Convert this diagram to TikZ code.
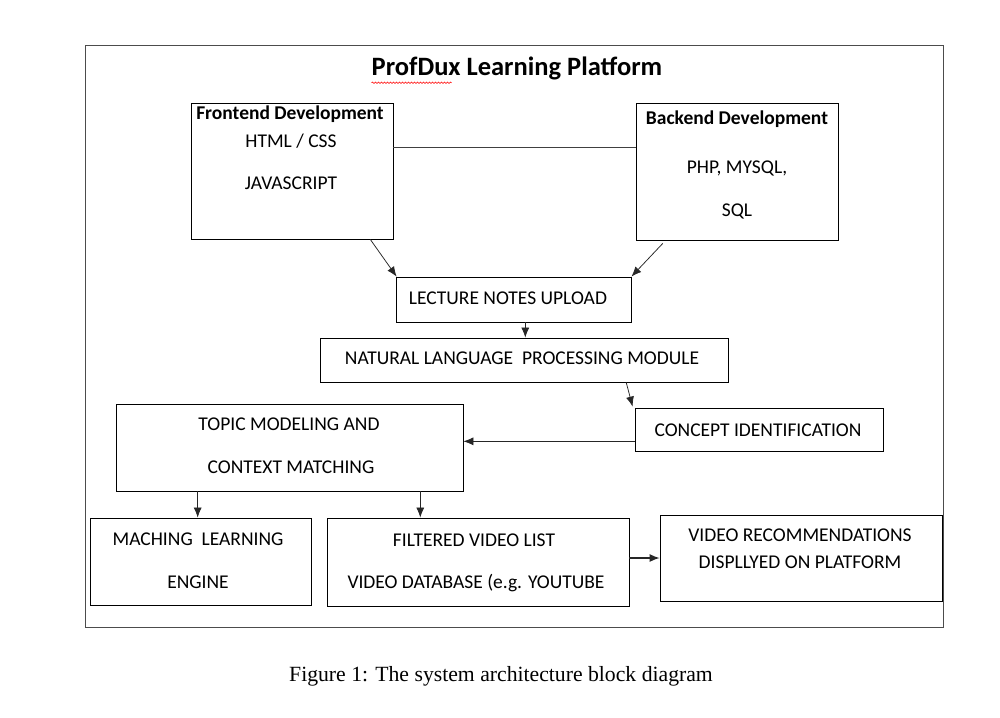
\documentclass[tikz,border=0pt]{standalone}
\usepackage{fontspec}
\setmainfont{Carlito}
\newfontfamily\capfont{Liberation Serif}
\usetikzlibrary{arrows.meta,calc,decorations.pathmorphing}
\begin{document}
\begin{tikzpicture}[x=1pt,y=-1pt,
  box/.style={draw=black,line width=0.8pt,inner sep=0pt},
  frame/.style={draw=black!70,line width=0.9pt},
  txt/.style={inner sep=0pt,font=\fontsize{19.5}{23}\selectfont},
  head/.style={inner sep=0pt,font=\fontsize{19.5}{23}\selectfont\bfseries},
  arr/.style={draw=black!85,line width=0.75pt,-{Latex[length=10pt,width=8pt]}},
  link/.style={draw=black!75,line width=0.7pt}]
\useasboundingbox (0,0) rectangle (1000,717);
\fill[white] (0,0) rectangle (1000,717);
% outer frame
\node[frame,inner sep=0pt,minimum width=858,minimum height=582] (outer) at (514,336) {};
% title
\node[inner sep=0pt,font=\fontsize{26.5}{30}\selectfont\bfseries] (title) at (517,68) {ProfDux Learning Platform};
\draw[red,line width=0.6pt,decorate,decoration={snake,amplitude=0.7pt,segment length=3pt}] (title.south west) ++(0,3) coordinate (sq1) -- ($(sq1)+(80,0)$);
% boxes
\node[box,minimum width=202,minimum height=136] (fe) at (292,171) {};
\node[box,minimum width=202,minimum height=137] (be) at (737,171.5) {};
\node[box,minimum width=235,minimum height=45] (ln) at (513.5,299.5) {};
\node[box,minimum width=408,minimum height=44] (nlp) at (524,360) {};
\node[box,minimum width=248,minimum height=43] (ci) at (759,429.5) {};
\node[box,minimum width=347,minimum height=87] (tm) at (289.5,447.5) {};
\node[box,minimum width=221,minimum height=87] (ml) at (200.5,561.5) {};
\node[box,minimum width=302,minimum height=88] (fv) at (478,562) {};
\node[box,minimum width=282,minimum height=86] (vr) at (801,558) {};
% texts
\node[head] (t1) at (290,114) {Frontend Development};
\node[txt] (t2) at (291,141) {HTML / CSS};
\node[txt] (t3) at (291,183) {JAVASCRIPT};
\node[head] (t4) at (737,119) {Backend Development};
\node[txt] (t5) at (737,168) {PHP, MYSQL,};
\node[txt] (t6) at (737,211) {SQL};
\node[txt] (t7) at (508,298) {LECTURE NOTES UPLOAD};
\node[txt] (t8) at (522,358) {NATURAL LANGUAGE\ \ PROCESSING MODULE};
\node[txt] (t9) at (758,430) {CONCEPT IDENTIFICATION};
\node[txt] (t10) at (289,424) {TOPIC MODELING AND};
\node[txt] (t11) at (291,467) {CONTEXT MATCHING};
\node[txt] (t12) at (198,539) {MACHING\ \ LEARNING};
\node[txt] (t13) at (198,582) {ENGINE};
\node[txt] (t14) at (474,540) {FILTERED VIDEO LIST};
\node[txt] (t15) at (476,583) {VIDEO DATABASE (e.g. YOUTUBE};
\node[txt] (t16) at (800,535) {VIDEO RECOMMENDATIONS};
\node[txt] (t17) at (800,562) {DISPLLYED ON PLATFORM};
% caption
\node[inner sep=0pt,font=\capfont\fontsize{21.7}{25}\selectfont] (cap) at (501,676) {Figure 1: The system architecture block diagram};
% connectors
\coordinate (febe) at ($(fe.north east)!0.33!(fe.south east)$);
\draw[link] (febe) -- (febe -| be.west);
\coordinate (fes) at ($(fe.south west)!0.886!(fe.south east)$);
\draw[arr] (fes) -- ($(ln.north west)+(1,0)$);
\coordinate (bes) at ($(be.south west)!0.134!(be.south east)$);
\draw[arr] ($(bes)+(0,3)$) -- (ln.north east);
\coordinate (lns) at ($(ln.south west)!0.55!(ln.south east)$);
\draw[arr] (lns) -- (lns |- nlp.north);
\coordinate (nlps) at ($(nlp.south west)!0.75!(nlp.south east)$);
\draw[arr] (nlps) -- ($(ci.north west)+(-2,-1)$);
\coordinate (ciw) at ($(ci.south west)!0.23!(ci.north west)$);
\draw[arr] (ciw) -- (ciw -| tm.east);
\coordinate (tms1) at ($(tm.south west)!0.236!(tm.south east)$);
\draw[arr] (tms1) -- (tms1 |- ml.north);
\coordinate (tms2) at ($(tm.south west)!0.876!(tm.south east)$);
\draw[arr] (tms2) -- (tms2 |- fv.north);
\draw[arr,line width=1.2pt] (vr.west -| fv.east) -- (vr.west);
\end{tikzpicture}
\end{document}
